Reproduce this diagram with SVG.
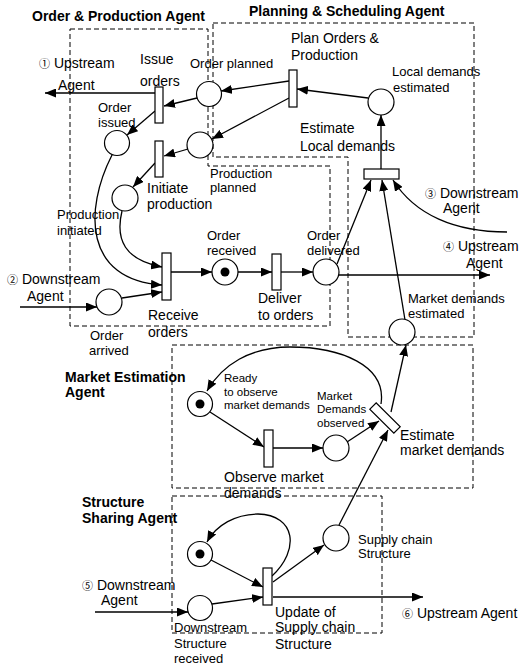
<svg xmlns="http://www.w3.org/2000/svg" width="520" height="668" viewBox="0 0 520 668">
<defs>
<marker id="ah" markerWidth="11" markerHeight="9" refX="11" refY="4.5" orient="auto" markerUnits="userSpaceOnUse"><path d="M0,0 L11,4.5 L0,9 z" fill="#000"/></marker>
<style>
text{font-family:"Liberation Sans",Arial,"Noto Sans CJK JP",sans-serif;fill:#000}
.l{font-size:14px}.s{font-size:13px}.xs{font-size:11.5px}.b{font-size:14px;font-weight:bold}
.c{font-size:11px}
.box{fill:none;stroke:#000;stroke-width:1;stroke-dasharray:5,3}
.p{fill:#fff;stroke:#000;stroke-width:1.2}
.t{fill:#fff;stroke:#000;stroke-width:1.2}
.k{fill:#000}
#edges path{fill:none;stroke:#000;stroke-width:1.3;marker-end:url(#ah)}
</style>
</defs>
<rect width="520" height="668" fill="#fff"/>
<g id="agents">
<path class="box" d="M70,29 H208 V166 H330 V326 H70 Z"/>
<path class="box" d="M213,23 H474 V337 H348 V157 H213 Z"/>
<rect class="box" x="172" y="345" width="301" height="143"/>
<rect class="box" x="172" y="496" width="210" height="137"/>
<text class="b" x="32" y="21">Order &amp; Production Agent</text>
<text class="b" x="249" y="16">Planning &amp; Scheduling Agent</text>
<text class="b" x="65" y="382">Market Estimation</text>
<text class="b" x="65" y="397">Agent</text>
<text class="b" x="82" y="507">Structure</text>
<text class="b" x="82" y="523">Sharing Agent</text>
</g>
<g id="edges">
<path d="M155,93 L45,93"/>
<path d="M197,98 L164,106"/>
<path d="M155,111 L127,135"/>
<path d="M188,149 L164,156"/>
<path d="M155,163 L133,187"/>
<path d="M289,81 L221,91"/>
<path d="M289,98 L212,139"/>
<path d="M368,98 L297,89"/>
<path d="M381,169 L381,115"/>
<path d="M337,264 L371,180"/>
<path d="M405,320 L382,180"/>
<path d="M507,232 C455,232 415,215 393,180"/>
<path d="M339,275 L490,275"/>
<path d="M171,272 L212,272"/>
<path d="M238,272 L272,272"/>
<path d="M281,272 L313,272"/>
<path d="M122,298 L162,292"/>
<path d="M20,307 L97,307"/>
<path d="M122,211 C115,240 125,260 162,267"/>
<path d="M112,155 C84,210 84,280 162,285"/>
<path d="M381,404 C387,365 340,347 290,347 C250,347 222,365 207,391"/>
<path d="M210,412 L264,447"/>
<path d="M273,448 L323,448"/>
<path d="M347,442 L379,421"/>
<path d="M391,412 L406,345"/>
<path d="M339,525 L388,430"/>
<path d="M95,612 L188,612"/>
<path d="M211,560 L263,587"/>
<path d="M212,604 L263,597"/>
<path d="M272,576 C300,550 296,515 258,514 C236,514 216,525 207,542"/>
<path d="M273,582 L324,545"/>
<path d="M273,597 L423,597"/>
</g>
<g id="ext-labels">
<text class="l" x="39" y="68"><tspan class="c">①</tspan> Upstream</text>
<text class="l" x="58" y="90">Agent</text>
<text class="l" x="7" y="284"><tspan class="c">②</tspan> Downstream</text>
<text class="l" x="27" y="301">Agent</text>
<text class="l" x="425" y="198"><tspan class="c">③</tspan> Downstream</text>
<text class="l" x="443" y="213">Agent</text>
<text class="l" x="443" y="251"><tspan class="c">④</tspan> Upstream</text>
<text class="l" x="466" y="268">Agent</text>
<text class="l" x="82" y="590"><tspan class="c">⑤</tspan> Downstream</text>
<text class="l" x="101" y="605">Agent</text>
<text class="l" x="402" y="618"><tspan class="c">⑥</tspan> Upstream Agent</text>
</g>
<g id="issue-orders"><rect class="t" x="155" y="87" width="8" height="36"/><text class="l" x="140" y="64">Issue</text><text class="l" x="140" y="86">orders</text></g>
<g id="order-planned"><circle class="p" cx="209" cy="94" r="12.5"/><text class="s" x="190" y="68">Order planned</text></g>
<g id="order-issued"><circle class="p" cx="117" cy="143" r="12.5"/><text class="s" x="98" y="112">Order</text><text class="s" x="98" y="127">issued</text></g>
<g id="plan-orders"><rect class="t" x="289" y="70" width="8" height="37"/><text class="l" x="291" y="43">Plan Orders &amp;</text><text class="l" x="291" y="60">Production</text></g>
<g id="local-demands"><circle class="p" cx="381" cy="102" r="13"/><text class="s" x="392" y="76">Local demands</text><text class="s" x="393" y="92">estimated</text></g>
<g id="estimate-local"><rect class="t" x="364" y="169" width="35" height="10"/><text class="l" x="300" y="133">Estimate</text><text class="l" x="300" y="151">Local demands</text></g>
<g id="production-planned"><circle class="p" cx="200" cy="145" r="13"/><text class="s" x="210" y="178">Production</text><text class="s" x="210" y="192">planned</text></g>
<g id="initiate-production"><rect class="t" x="155" y="141" width="8" height="36"/><text class="l" x="147" y="193">Initiate</text><text class="l" x="147" y="209">production</text></g>
<g id="production-initiated"><circle class="p" cx="125" cy="198" r="13"/><text class="s" x="57" y="219">Production</text><text class="s" x="57" y="235">initiated</text></g>
<g id="receive-orders"><rect class="t" x="162" y="253" width="9" height="47"/><text class="l" x="148" y="320">Receive</text><text class="l" x="148" y="337">orders</text></g>
<g id="order-arrived"><circle class="p" cx="109" cy="302" r="13"/><text class="s" x="90" y="340">Order</text><text class="s" x="89" y="355">arrived</text></g>
<g id="order-received"><circle class="p" cx="225" cy="272" r="13"/><circle class="k" cx="225" cy="272" r="4.5"/><text class="s" x="207" y="240">Order</text><text class="s" x="207" y="255">received</text></g>
<g id="deliver"><rect class="t" x="272" y="254" width="9" height="36"/><text class="l" x="258" y="303">Deliver</text><text class="l" x="258" y="320">to orders</text></g>
<g id="order-delivered"><circle class="p" cx="326" cy="272" r="13"/><text class="s" x="307" y="240">Order</text><text class="s" x="307" y="255">delivered</text></g>
<g id="market-estimated"><circle class="p" cx="402" cy="332" r="13"/><text class="s" x="408" y="303">Market demands</text><text class="s" x="408" y="318">estimated</text></g>
<g id="ready"><circle class="p" cx="200" cy="404" r="12.5"/><circle class="k" cx="200" cy="404" r="4.5"/><text class="xs" x="224" y="382">Ready</text><text class="xs" x="224" y="396">to observe</text><text class="xs" x="224" y="409">market demands</text></g>
<g id="observe"><rect class="t" x="264" y="430" width="9" height="37"/><text class="l" x="224" y="482">Observe market</text><text class="l" x="224" y="498">demands</text></g>
<g id="demands-observed"><circle class="p" cx="336" cy="448" r="13"/><text class="xs" x="317" y="400">Market</text><text class="xs" x="317" y="413">Demands</text><text class="xs" x="317" y="427">observed</text></g>
<g id="estimate-market"><rect class="t" x="-17" y="-4.5" width="34" height="9" transform="translate(385,418) rotate(45)"/><text class="l" x="400" y="440">Estimate</text><text class="l" x="400" y="455">market demands</text></g>
<g id="structure-token"><circle class="p" cx="200" cy="554" r="12.5"/><circle class="k" cx="200" cy="554" r="4.5"/></g>
<g id="downstream-received"><circle class="p" cx="200" cy="608" r="12.5"/><text class="s" x="174" y="632">Downstream</text><text class="s" x="174" y="648">Structure</text><text class="s" x="174" y="663">received</text></g>
<g id="update"><rect class="t" x="263" y="568" width="9" height="37"/><text class="l" x="275" y="617">Update of</text><text class="l" x="275" y="632">Supply chain</text><text class="l" x="275" y="649">Structure</text></g>
<g id="supply-structure"><circle class="p" cx="336" cy="538" r="13"/><text class="s" x="358" y="544">Supply chain</text><text class="s" x="358" y="558">Structure</text></g>
</svg>
